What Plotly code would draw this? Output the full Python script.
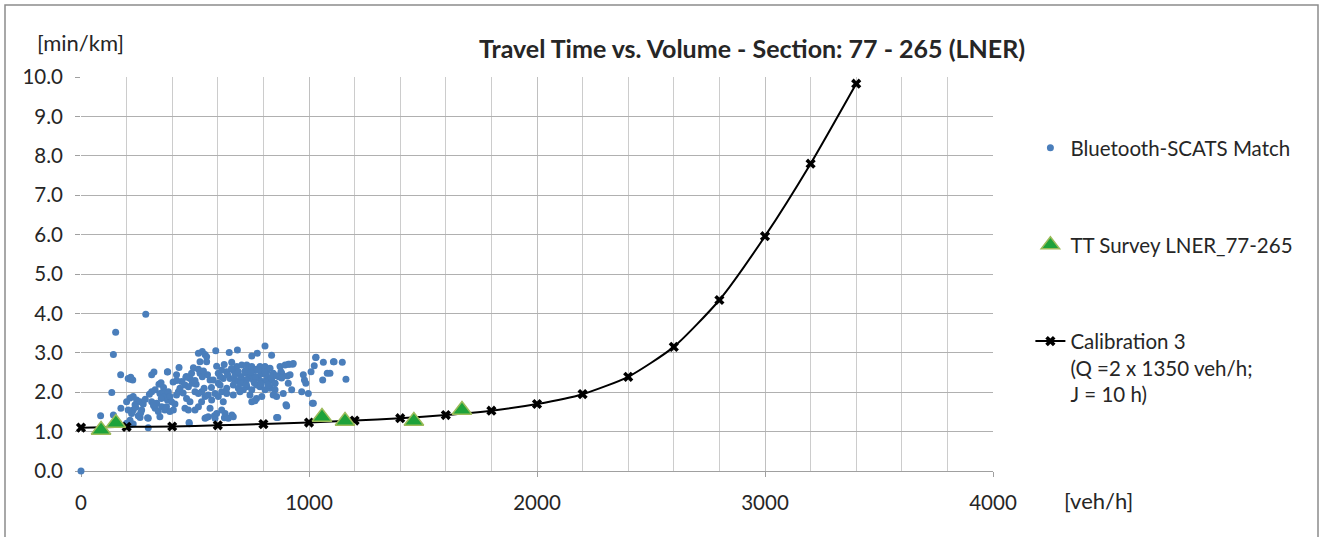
import plotly.graph_objects as go

# ---- Bluetooth-SCATS Match (volume veh/h, travel time min/km) ----
bt_x = [0, 284, 152, 142, 174, 215, 227, 310, 320, 379, 135, 342, 351, 310, 325, 346, 361, 368, 379,
        175, 200, 215, 229, 244, 237, 229, 222, 207, 259, 273, 266, 251, 259, 310, 332, 325, 339, 354,
        368, 346, 295, 86, 142, 200, 215, 229, 295, 215, 207, 218, 257, 292,
        515, 532, 544, 551, 591, 522, 551, 430, 380, 419, 515, 522, 532, 555, 566, 580, 602, 602,
        485, 478, 488, 442, 456, 434, 427, 419, 383, 390, 397, 375, 405, 390,
        471, 500, 515, 529, 544, 558, 573, 588, 602, 617, 463, 478, 456, 471, 500, 515, 529, 566,
        558, 544, 588, 595, 474, 548, 585, 629, 662, 475,
        650, 686, 749, 773, 807, 836, 661, 683, 705, 727, 734, 749, 756, 770, 785, 807, 814, 829, 843,
        617, 639, 668, 624, 654, 675, 690, 712, 734, 756, 778, 793, 814,
        610, 639, 668, 690, 712, 727, 749, 770, 785, 807, 829, 851,
        639, 668, 697, 741, 770, 793, 843, 858, 624, 617, 632, 646, 668, 749, 763, 858,
        899, 863, 924, 887, 968, 997, 1019, 873, 895, 914, 928, 880, 905, 836, 851, 822,
        909, 931, 877, 868, 917, 909, 902,
        1029, 1063, 1107, 1023, 1009, 1080, 1060, 975, 980, 986, 1015, 1110, 1146, 1162, 1092, 1031,
        240, 262, 282, 300, 318, 352, 362, 404, 412, 448, 462, 493, 505, 537, 572, 610, 643, 676,
        700, 722, 745, 765, 790, 812, 835, 858, 880, 700, 725, 760, 790, 820, 850, 690, 720, 745,
        780, 805, 595, 628, 660, 540, 500, 460, 420]
bt_y = [0.00, 3.98, 3.52, 2.96, 2.44, 2.33, 2.31, 2.44, 2.51, 2.51, 1.99, 2.20, 2.24, 2.01, 2.06, 1.97, 2.01, 1.89, 1.80,
        1.59, 1.76, 1.85, 1.89, 1.80, 1.68, 1.55, 1.46, 1.55, 1.76, 1.70, 1.55, 1.40, 1.36, 1.76, 1.72, 1.59, 1.51, 1.63,
        1.55, 1.38, 1.34, 1.40, 1.42, 1.21, 1.17, 1.19, 1.10, 1.29, 2.35, 2.38, 1.40, 1.35,
        2.99, 3.03, 2.96, 2.90, 3.05, 2.77, 2.77, 2.63, 2.52, 2.44, 2.58, 2.48, 2.39, 2.44, 2.31, 2.31, 2.48, 2.23,
        2.48, 2.35, 2.23, 2.27, 2.18, 2.10, 2.01, 1.93, 2.01, 1.89, 1.76, 1.63, 1.55, 1.51,
        2.14, 2.01, 1.97, 2.01, 1.89, 1.93, 1.80, 1.97, 1.89, 2.01, 1.84, 1.76, 1.59, 1.55, 1.55, 1.63, 1.76, 1.59,
        1.38, 1.34, 1.34, 1.46, 1.23, 1.35, 1.40, 1.35, 1.42, 1.20,
        3.01, 3.07, 2.92, 2.99, 3.17, 2.94, 2.76, 2.65, 2.69, 2.69, 2.61, 2.65, 2.56, 2.58, 2.65, 2.65, 2.52, 2.61, 2.48,
        2.56, 2.52, 2.56, 2.35, 2.35, 2.31, 2.27, 2.31, 2.35, 2.31, 2.35, 2.27, 2.31,
        2.18, 2.10, 2.18, 2.10, 2.06, 2.14, 2.06, 2.18, 2.14, 2.06, 2.10, 2.06,
        1.97, 1.93, 2.01, 1.93, 1.84, 1.89, 1.93, 1.89, 1.76, 1.55, 1.46, 1.34, 1.38, 1.76, 1.78, 1.36,
        1.68, 1.36, 2.06, 1.97, 2.01, 1.97, 1.72, 2.65, 2.69, 2.71, 2.71, 2.48, 2.41, 2.31, 2.23, 2.18,
        2.71, 2.73, 2.52, 2.39, 2.44, 2.23, 1.65,
        2.88, 2.76, 2.77, 2.67, 2.52, 2.48, 2.31, 2.44, 2.31, 2.23, 1.72, 2.77, 2.76, 2.33, 2.48, 2.89,
        1.62, 1.48, 1.82, 1.95, 1.66, 1.84, 2.12, 2.26, 1.70, 1.98, 2.40, 2.62, 2.20, 2.54, 2.12, 2.40, 2.44, 2.46,
        2.40, 2.48, 2.44, 2.40, 2.46, 2.44, 2.38, 2.42, 2.36, 2.22, 2.20, 2.24, 2.20, 2.18, 2.22, 2.52, 2.54, 2.50,
        2.56, 2.52, 2.66, 2.70, 2.60, 2.10, 2.30, 2.38, 2.30]

# ---- TT Survey LNER_77-265 ----
tt_x = [88, 153, 1057, 1158, 1460, 1671]
tt_y = [1.04, 1.22, 1.37, 1.27, 1.27, 1.55]

# ---- Calibration 3 ----
cal_x = [0, 200, 400, 600, 800, 1000, 1200, 1400, 1600, 1800, 2000, 2200, 2400, 2600, 2800, 3000, 3200, 3400]
cal_y = [1.10, 1.12, 1.13, 1.16, 1.19, 1.23, 1.28, 1.34, 1.42, 1.53, 1.70, 1.95, 2.39, 3.15, 4.34, 5.96, 7.80, 9.83]

x_ticks = [0, 1000, 2000, 3000, 4000]
y_ticks = [i * 1.0 for i in range(11)]

FONT = "Lato"
TXT = "#262626"

fig = go.Figure()
fig.add_trace(go.Scatter(
    x=bt_x, y=bt_y, mode="markers", name="Bluetooth-SCATS Match", cliponaxis=False,
    marker=dict(color="#4a7ebb", size=7, line=dict(width=0)), legend="legend"))
fig.add_trace(go.Scatter(
    x=cal_x, y=cal_y, mode="lines+markers", name="Calibration 3<br>(Q =2 x 1350 veh/h;<br>J = 10 h)",
    cliponaxis=False,
    line=dict(color="black", width=2, shape="spline", smoothing=0.6),
    marker=dict(symbol="x", color="black", size=9, line=dict(width=0)), legend="legend3"))
fig.add_trace(go.Scatter(
    x=tt_x, y=tt_y, mode="markers", name="TT Survey LNER_77-265", cliponaxis=False,
    marker=dict(symbol="triangle-up", color="#1ea23a", size=17, line=dict(color="#9bbb59", width=1.5)),
    legend="legend2"))

leg_common = dict(font=dict(family=FONT, size=20.5, color=TXT), bgcolor="rgba(0,0,0,0)",
                  xanchor="left", x=1.041, itemsizing="trace")
fig.update_layout(
    width=1320, height=537,
    margin=dict(l=81, r=327, t=77, b=66),
    paper_bgcolor="white", plot_bgcolor="white",
    font=dict(family=FONT, size=20, color=TXT),
    showlegend=True,
    legend=dict(**leg_common, y=0.82, yanchor="middle"),
    legend2=dict(**leg_common, y=0.574, yanchor="middle"),
    legend3=dict(**leg_common, y=0.38, yanchor="top", valign="top"),
    xaxis=dict(range=[0, 4000], tickvals=x_ticks, ticktext=[str(v) for v in x_ticks],
               showgrid=True, gridcolor="#c0c0c0", gridwidth=1, layer="below traces",
               minor=dict(dtick=200, tick0=0, showgrid=True, gridcolor="#cccccc", gridwidth=1),
               showline=True, linecolor="#a0a0a0", linewidth=1,
               ticks="outside", ticklen=5, tickcolor="#a0a0a0", ticklabelstandoff=8,
               zeroline=False, tickfont=dict(family=FONT, size=20.5, color=TXT)),
    yaxis=dict(range=[0, 10], tickvals=y_ticks, ticktext=[f"{v:.1f}" for v in y_ticks],
               showgrid=True, gridcolor="#b0b0b0", gridwidth=1, layer="below traces",
               showline=False, ticks="outside", ticklen=5, tickcolor="#a0a0a0", ticklabelstandoff=8,
               zeroline=False, tickfont=dict(family=FONT, size=20.5, color=TXT)),
    annotations=[
        dict(text="<b>Travel Time vs. Volume - Section: 77 - 265 (LNER)</b>", xref="paper", yref="paper",
             x=(752 - 81) / 912, y=(471 - 48) / 394, xanchor="center", yanchor="middle",
             showarrow=False, font=dict(family=FONT, size=25, color=TXT)),
        dict(text="[min/km]", xref="paper", yref="paper", x=(35 - 81) / 912, y=(471 - 42) / 394,
             xanchor="left", yanchor="middle", showarrow=False, font=dict(family=FONT, size=22, color=TXT)),
        dict(text="[veh/h]", xref="paper", yref="paper", x=(1062 - 81) / 912, y=(471 - 500) / 394,
             xanchor="left", yanchor="middle", showarrow=False, font=dict(family=FONT, size=22, color=TXT)),
    ],
    shapes=[
        dict(type="rect", xref="paper", yref="paper",
             x0=(5 - 81) / 912, x1=(1318 - 81) / 912, y0=(471 - 540) / 394, y1=(471 - 5) / 394,
             line=dict(color="#8c8c8c", width=1.5), fillcolor="rgba(0,0,0,0)", layer="below"),
    ],
)

fig.write_html("out.html")
